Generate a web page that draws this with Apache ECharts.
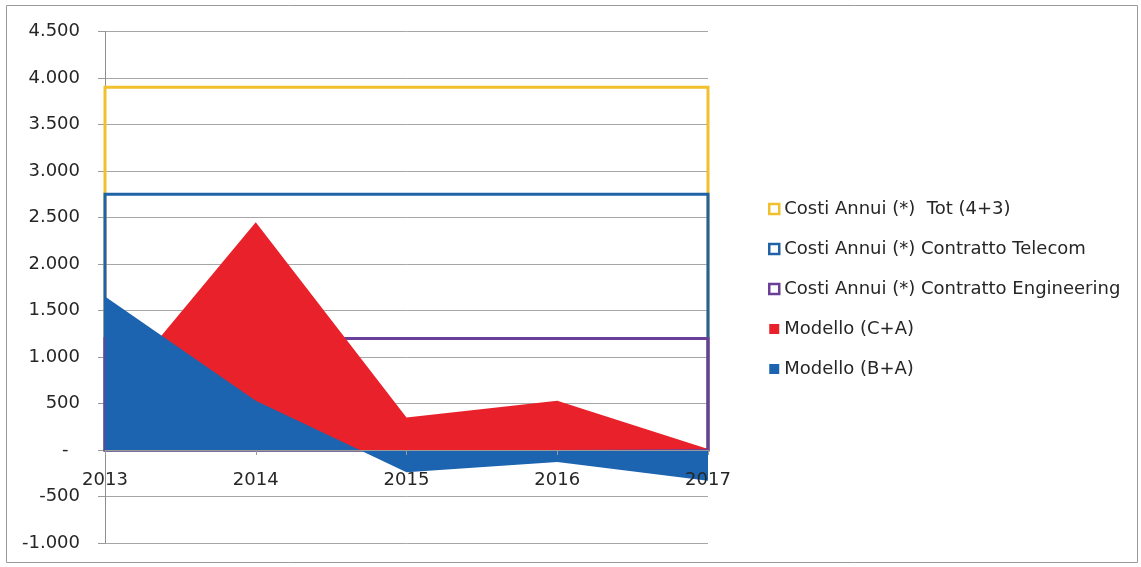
<!DOCTYPE html>
<html>
<head>
<meta charset="utf-8">
<script src="https://cdn.jsdelivr.net/npm/echarts@6/dist/echarts.min.js"></script>
<style>
  html, body { margin: 0; padding: 0; background: #ffffff; }
  #chart { width: 1141px; height: 567px; }
</style>
</head>
<body>
<div id="chart"></div>
<script>
// Years on the category axis
const years = ['2013', '2014', '2015', '2016', '2017'];

// Annual cost reference levels (outlined areas)
const costiTot = [3900, 3900, 3900, 3900, 3900];
const costiTelecom = [2750, 2750, 2750, 2750, 2750];
const costiEngineering = [1200, 1200, 1200, 1200, 1200];

// Model results (filled areas)
const modelloCA = [500, 2450, 350, 530, 10];
const modelloBA = [1650, 530, -240, -130, -330];

// Value axis range
const yMin = -1000;
const yMax = 4500;
const yStep = 500;

const FONT = '"DejaVu Sans", sans-serif';
const FSIZE = 18;
const TEXT = '#262626';

function fmtIt(v) {
  if (v === 0) return '-  ';
  const s = Math.abs(v).toString().replace(/\B(?=(\d{3})+(?!\d))/g, '.');
  return (v < 0 ? '-' : '') + s;
}

// Closed outline of an area (baseline -> values -> baseline) drawn through the axes
function outlineRenderer(values, color) {
  return function (params, api) {
    if (params.dataIndex !== 0) return null;
    const pts = [api.coord([0, 0])];
    values.forEach(function (v, i) { pts.push(api.coord([i, v])); });
    pts.push(api.coord([values.length - 1, 0]));
    return {
      type: 'polygon',
      shape: { points: pts },
      style: { fill: 'none', stroke: color, lineWidth: 3, lineJoin: 'miter' }
    };
  };
}

function outlineSeries(name, values, color) {
  return {
    name: name,
    type: 'custom',
    data: values.map(function (v, i) { return [i, v]; }),
    encode: { x: 0, y: 1 },
    itemStyle: { color: color },
    renderItem: outlineRenderer(values, color),
    silent: true
  };
}

function filledSeries(name, values, color) {
  return {
    name: name,
    type: 'line',
    data: values,
    showSymbol: false,
    symbol: 'none',
    lineStyle: { width: 0, color: color },
    itemStyle: { color: color },
    areaStyle: { color: color, opacity: 1 },
    silent: true
  };
}

// Year labels sitting just under the zero line of the value axis
const yearLabels = {
  name: 'years',
  type: 'custom',
  data: years.map(function (y, i) { return [i, 0]; }),
  encode: { x: 0, y: 1 },
  renderItem: function (params, api) {
    const p = api.coord([api.value(0), 0]);
    return {
      type: 'text',
      x: p[0],
      y: p[1] + 21,
      style: {
        text: years[params.dataIndex],
        fontFamily: FONT,
        fontSize: FSIZE,
        fill: TEXT,
        align: 'center',
        verticalAlign: 'top'
      }
    };
  },
  silent: true,
  clip: false,
  z: 10
};

const C_TOT = '#f0c12c';
const C_TEL = '#1f63a6';
const C_ENG = '#6a3f98';
const C_CA = '#e8212a';
const C_BA = '#1c64b0';

const names = [
  'Costi Annui (*)  Tot (4+3)',
  'Costi Annui (*) Contratto Telecom',
  'Costi Annui (*) Contratto Engineering',
  'Modello (C+A)',
  'Modello (B+A)'
];

const chart = echarts.init(document.getElementById('chart'), null, { renderer: 'canvas' });

chart.setOption({
  backgroundColor: '#ffffff',
  animation: false,
  textStyle: { fontFamily: FONT },
  graphic: [{
    type: 'rect',
    shape: { x: 6.5, y: 5.5, width: 1131, height: 557 },
    style: { fill: 'none', stroke: '#9a9a9a', lineWidth: 1 },
    silent: true,
    z: -10
  }],
  grid: { left: 105, right: 433, top: 31.5, bottom: 24, containLabel: false, outerBoundsMode: 'none' },
  legend: {
    orient: 'vertical',
    left: 763,
    top: 194,
    itemWidth: 10,
    itemHeight: 10,
    itemGap: 20,
    icon: 'rect',
    textStyle: { fontFamily: FONT, fontSize: FSIZE, color: TEXT, lineHeight: 20 },
    data: [
      { name: names[0], itemStyle: { color: '#ffffff', borderColor: C_TOT, borderWidth: 2.5 } },
      { name: names[1], itemStyle: { color: '#ffffff', borderColor: C_TEL, borderWidth: 2.5 } },
      { name: names[2], itemStyle: { color: '#ffffff', borderColor: C_ENG, borderWidth: 2.5 } },
      { name: names[3], itemStyle: { color: C_CA } },
      { name: names[4], itemStyle: { color: C_BA } }
    ]
  },
  xAxis: {
    type: 'category',
    data: years,
    boundaryGap: false,
    axisLine: { onZero: true, lineStyle: { color: '#9a9a9a', width: 1 } },
    axisTick: { show: true, length: 5, lineStyle: { color: '#9a9a9a' } },
    axisLabel: { show: false },
    z: 5
  },
  yAxis: {
    type: 'value',
    min: yMin,
    max: yMax,
    interval: yStep,
    axisLine: { show: true, lineStyle: { color: '#8e8e8e', width: 1 } },
    axisTick: { show: true, length: 7, lineStyle: { color: '#9a9a9a' } },
    axisLabel: { fontFamily: FONT, fontSize: FSIZE, color: TEXT, margin: 25, formatter: fmtIt },
    splitLine: { show: true, lineStyle: { color: '#a6a6a6', width: 1 } }
  },
  series: [
    outlineSeries(names[0], costiTot, C_TOT),
    outlineSeries(names[1], costiTelecom, C_TEL),
    outlineSeries(names[2], costiEngineering, C_ENG),
    filledSeries(names[3], modelloCA, C_CA),
    filledSeries(names[4], modelloBA, C_BA),
    yearLabels
  ]
});
</script>
</body>
</html>
